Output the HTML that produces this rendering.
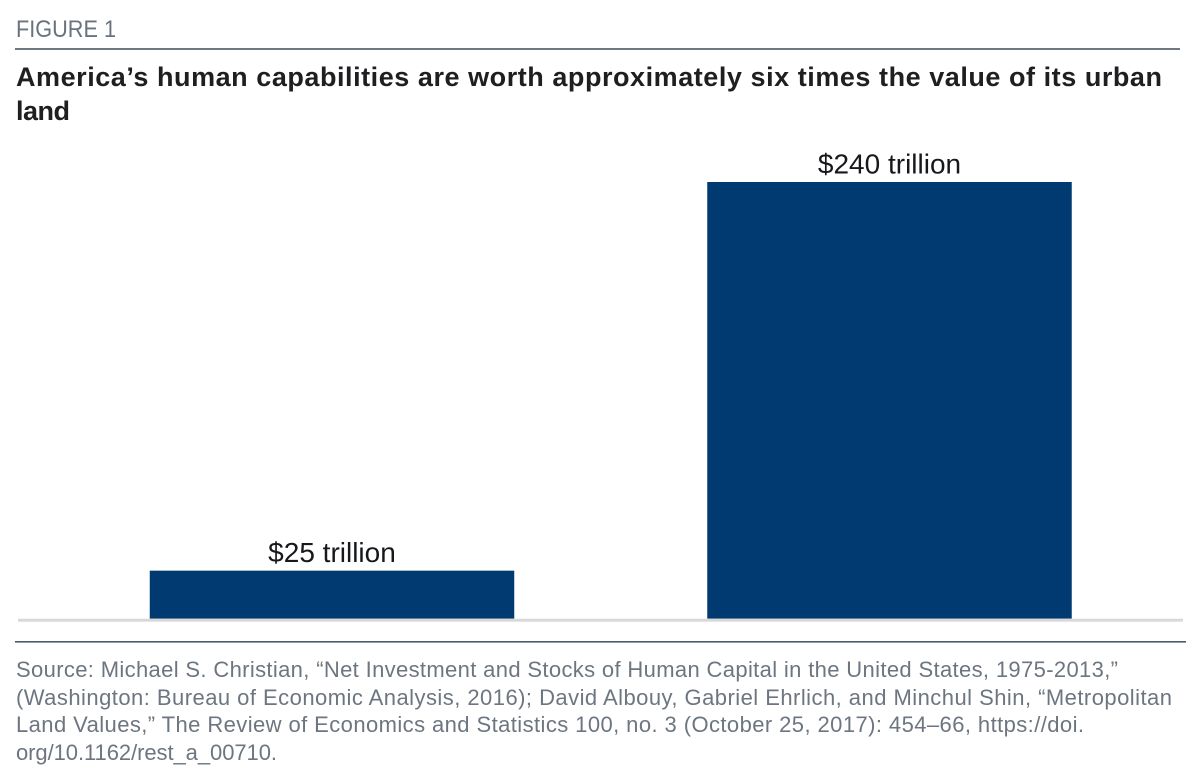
<!DOCTYPE html>
<html lang="en">
<head>
<meta charset="utf-8">
<title>Figure 1</title>
<style>
  html, body { margin: 0; padding: 0; background: #fff; }
  svg { display: block; font-family: "Liberation Sans", sans-serif; }
</style>
</head>
<body>
<svg id="figure" width="1200" height="768" viewBox="0 0 1200 768" xmlns="http://www.w3.org/2000/svg">
  <text x="16" y="37" font-size="24" fill="#69737e" textLength="100" lengthAdjust="spacingAndGlyphs">FIGURE 1</text>
  <rect x="15" y="48" width="1165" height="2" fill="#6f7780"/>
  <text x="16" y="86" font-size="27" font-weight="700" fill="#1f1e21" textLength="1146" lengthAdjust="spacing">America’s human capabilities are worth approximately six times the value of its urban</text>
  <text x="16" y="120" font-size="27" font-weight="700" fill="#1f1e21" textLength="54" lengthAdjust="spacing">land</text>
  <g id="plot"></g>
  <rect x="15" y="641" width="1171" height="1.6" fill="#4c5a68"/>
  <text x="16" y="677" font-size="22" fill="#6d7680" textLength="1102" lengthAdjust="spacing">Source: Michael S. Christian, “Net Investment and Stocks of Human Capital in the United States, 1975-2013,”</text>
  <text x="16" y="705" font-size="22" fill="#6d7680" textLength="1156" lengthAdjust="spacing">(Washington: Bureau of Economic Analysis, 2016); David Albouy, Gabriel Ehrlich, and Minchul Shin, “Metropolitan</text>
  <text x="16" y="732" font-size="22" fill="#6d7680" textLength="1068" lengthAdjust="spacing">Land Values,” The Review of Economics and Statistics 100, no. 3 (October 25, 2017): 454–66, https://doi.</text>
  <text x="16" y="760" font-size="22" fill="#6d7680" textLength="261" lengthAdjust="spacing">org/10.1162/rest_a_00710.</text>
</svg>
<script>
// Bar heights (trillions of dollars)
const categories = ['urban-land', 'human-capabilities'];
const barValues = [26.4, 240];
const printedLabels = ['$25 trillion', '$240 trillion'];

const plotLeft = 52;
const plotRight = 1169.5;
const baselineY = 618.7;
const topY = 182;
const domainMax = 240;
const bandStep = 557.5;
const barWidth = 364.5;
const svgNS = 'http://www.w3.org/2000/svg';

function yScale(v) {
  return baselineY - (v / domainMax) * (baselineY - topY);
}
function xCenter(i) {
  return (plotLeft + plotRight) / 2 - bandStep * (categories.length - 1) / 2 + bandStep * i;
}

const plot = document.getElementById('plot');

barValues.forEach(function (v, i) {
  const bar = document.createElementNS(svgNS, 'rect');
  
  
  bar.setAttribute('x', xCenter(i) - barWidth / 2);
  bar.setAttribute('y', yScale(v));
  bar.setAttribute('width', barWidth);
  bar.setAttribute('height', baselineY - yScale(v));
  bar.setAttribute('fill', '#003a70');
  plot.appendChild(bar);

  const label = document.createElementNS(svgNS, 'text');
  
  
  label.setAttribute('x', xCenter(i));
  label.setAttribute('y', yScale(v) - 8.7);
  label.setAttribute('text-anchor', 'middle');
  label.setAttribute('font-size', '28');
  label.setAttribute('fill', '#16181c');
  label.textContent = printedLabels[i];
  plot.appendChild(label);
});

const axis = document.createElementNS(svgNS, 'rect');


axis.setAttribute('x', 18);
axis.setAttribute('y', baselineY);
axis.setAttribute('width', 1165);
axis.setAttribute('height', 3);
axis.setAttribute('fill', '#d9d9d9');
plot.appendChild(axis);
</script>
</body>
</html>
